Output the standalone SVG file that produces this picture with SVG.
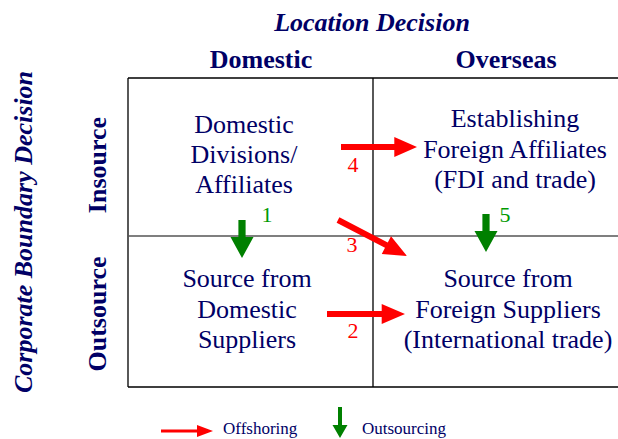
<svg xmlns="http://www.w3.org/2000/svg" width="618" height="439" viewBox="0 0 618 439">
<style>
text{font-family:"Liberation Serif","Times New Roman",serif;fill:#000066;}
.hdr{font-size:26px;font-weight:bold;text-anchor:middle;}
.ttl{font-size:26px;font-weight:bold;font-style:italic;text-anchor:middle;}
.cell{font-size:26px;text-anchor:middle;}
.num{font-size:22px;text-anchor:middle;}
.red{fill:#ff0000;}
.grn{fill:#009900;}
.leg{font-size:17px;}
.grid{stroke:#000;stroke-width:1.3;fill:none;}
.mid{stroke:#555;stroke-width:1.5;fill:none;}
.ra{fill:#ff0000;}
.ga{fill:#008000;}
</style>
<defs>
<polygon id="bigRed" points="0,-3 54,-3 54,-10 77,0 54,10 54,3 0,3"/>
<polygon id="bigGreen" points="-3.6,0 3.6,0 3.6,17 11.5,17 0,38 -11.5,17 -3.6,17"/>
</defs>
<rect width="618" height="439" fill="#fff"/>
<g id="grid">
<path class="grid" d="M128,78H618M128,387H618M128,78V387M373,78V387"/>
<path class="mid" d="M128,236H618"/>
</g>
<g id="title-location"><text class="ttl" x="372" y="31">Location Decision</text></g>
<g id="header-domestic"><text class="hdr" x="261" y="68">Domestic</text></g>
<g id="header-overseas"><text class="hdr" x="506" y="68">Overseas</text></g>
<g id="title-boundary"><text class="ttl" transform="translate(32,232) rotate(-90)">Corporate Boundary Decision</text></g>
<g id="row-insource"><text class="hdr" transform="translate(106,165) rotate(-90)">Insource</text></g>
<g id="row-outsource"><text class="hdr" transform="translate(106,314) rotate(-90)">Outsource</text></g>
<g id="cell-domestic-insource">
<text class="cell" x="244" y="133">Domestic</text>
<text class="cell" x="244" y="163">Divisions/</text>
<text class="cell" x="244" y="193">Affiliates</text>
</g>
<g id="cell-overseas-insource">
<text class="cell" x="515" y="127">Establishing</text>
<text class="cell" x="515" y="158">Foreign Affiliates</text>
<text class="cell" x="515" y="188">(FDI and trade)</text>
</g>
<g id="cell-domestic-outsource">
<text class="cell" x="247" y="287">Source from</text>
<text class="cell" x="247" y="318">Domestic</text>
<text class="cell" x="247" y="348">Suppliers</text>
</g>
<g id="cell-overseas-outsource">
<text class="cell" x="508" y="287">Source from</text>
<text class="cell" x="508" y="318">Foreign Suppliers</text>
<text class="cell" x="508" y="348">(International trade)</text>
</g>
<g id="connectors">
<use href="#bigRed" class="ra" transform="translate(341,147) scale(0.987,1)"/>
<use href="#bigRed" class="ra" transform="translate(327,314) scale(1.013,1)"/>
<use href="#bigRed" class="ra" transform="translate(338,220) rotate(27.5) scale(1.01,1)"/>
<use href="#bigGreen" class="ga" transform="translate(242,220)"/>
<use href="#bigGreen" class="ga" transform="translate(486,214)"/>
<text class="num red" x="353" y="172">4</text>
<text class="num red" x="352" y="252">3</text>
<text class="num red" x="353" y="338">2</text>
<text class="num grn" x="267" y="222">1</text>
<text class="num grn" x="505" y="222">5</text>
</g>
<g id="legend">
<polygon class="ra" points="161,429.5 197,429.5 197,425 213,431 197,437 197,432.5 161,432.5"/>
<text class="leg" x="223" y="434">Offshoring</text>
<polygon class="ga" points="338,407 342,407 342,425 347.5,425 340,438 332.5,425 338,425"/>
<text class="leg" x="362" y="434">Outsourcing</text>
</g>
</svg>
